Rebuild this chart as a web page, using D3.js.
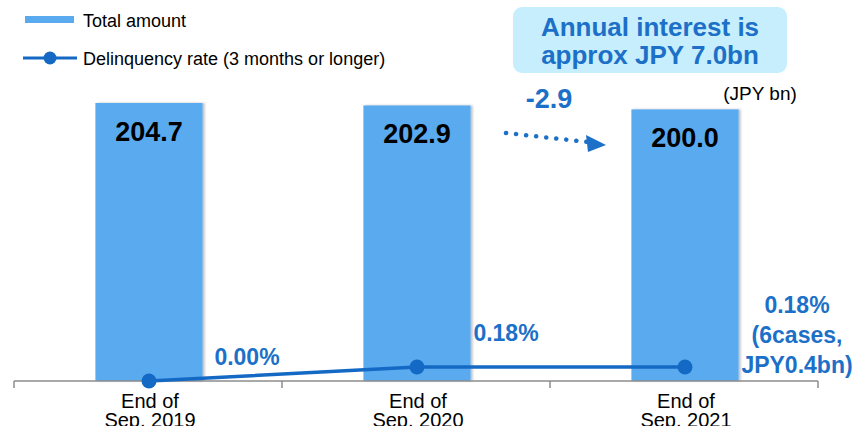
<!DOCTYPE html>
<html><head><meta charset="utf-8">
<script src="https://cdn.jsdelivr.net/npm/d3@7"></script>
<style>body{margin:0;background:#fff}svg{display:block;font-family:"Liberation Sans",Arial,sans-serif}</style>
</head><body><svg id="c" width="856" height="426"></svg>
<script>
const categories = [["End of","Sep. 2019"],["End of","Sep. 2020"],["End of","Sep. 2021"]];
const totalAmount = [204.7, 202.9, 200.0];
const delinquencyRate = [0.00, 0.18, 0.18];
const rateLabels = [["0.00%"],["0.18%"],["0.18%","(6cases,","JPY0.4bn)"]];
const legendLabels = ["Total amount","Delinquency rate (3 months or longer)"];
const calloutText = ["Annual interest is","approx JPY 7.0bn"];
const changeLabel = "-2.9";
const unitLabel = "(JPY bn)";

const svg = d3.select("#c");
const barColor = "#5aaaf0", lineColor = "#1469c4", blue = "#1c70c8";
const x = d3.scaleBand().domain(d3.range(categories.length)).range([14, 818]).paddingInner(0.6).paddingOuter(0.3);
const y = d3.scaleLinear().domain([0, 204.7]).range([381, 103]);
const yr = d3.scaleLinear().domain([0, 0.18]).range([381, 367]);
const cx = i => x(i) + x.bandwidth()/2;

svg.append("defs").append("filter").attr("id","sh").attr("x","-10%").attr("width","130%")
  .html('<feDropShadow dx="2" dy="0" stdDeviation="1.2" flood-color="#000" flood-opacity="0.25"/>');

svg.selectAll("rect.bar").data(totalAmount).join("rect").attr("class","bar")
  .attr("x",(d,i)=>x(i)+1).attr("width",x.bandwidth()).attr("y",d=>y(d)).attr("height",d=>381-y(d))
  .attr("fill",barColor).attr("filter","url(#sh)");

svg.selectAll("text.bv").data(totalAmount).join("text").attr("class","bv")
  .attr("x",(d,i)=>cx(i)+1).attr("y",d=>y(d)+38).attr("text-anchor","middle")
  .attr("font-size",27).attr("font-weight","bold").attr("fill","#000").text(d=>d.toFixed(1));

// axis
svg.append("line").attr("x1",14).attr("x2",818).attr("y1",381).attr("y2",381).attr("stroke","#8c8c8c").attr("stroke-width",1.5);
const ticks = d3.range(categories.length+1).map(i=>14 + i*(804/3));
svg.selectAll("line.tk").data(ticks).join("line").attr("class","tk")
  .attr("x1",d=>d).attr("x2",d=>d).attr("y1",381).attr("y2",388).attr("stroke","#8c8c8c").attr("stroke-width",1.5);

svg.selectAll("text.cat").data(categories).join("text").attr("class","cat")
  .attr("text-anchor","middle").attr("font-size",20).attr("fill","#000")
  .each(function(d,i){ d3.select(this).selectAll("tspan").data(d).join("tspan").attr("x",cx(i)+2).attr("y",(t,j)=>408+j*19).text(t=>t); });

// line
const line = d3.line().x((d,i)=>cx(i)+1).y(d=>yr(d));
svg.append("path").datum(delinquencyRate).attr("d",line).attr("fill","none").attr("stroke",lineColor).attr("stroke-width",3.5);
svg.selectAll("circle.pt").data(delinquencyRate).join("circle").attr("class","pt")
  .attr("cx",(d,i)=>cx(i)+1).attr("cy",d=>yr(d)).attr("r",7.5).attr("fill",lineColor);

// rate labels
const rlPos = [[247,365],[506,341],[797,313]];
svg.selectAll("text.rl").data(rateLabels).join("text").attr("class","rl")
  .attr("text-anchor","middle").attr("font-size",23).attr("font-weight","bold").attr("fill",blue)
  .each(function(d,i){ d3.select(this).selectAll("tspan").data(d).join("tspan")
    .attr("x",rlPos[i][0]).attr("y",(t,j)=>rlPos[i][1]+j*30).text(t=>t); });

// legend
svg.append("rect").attr("x",25).attr("y",16).attr("width",49).attr("height",7).attr("fill",barColor);
svg.append("text").attr("x",83).attr("y",26.5).attr("font-size",18).attr("fill","#000").text(legendLabels[0]);
svg.append("line").attr("x1",23).attr("x2",77).attr("y1",58).attr("y2",58).attr("stroke",lineColor).attr("stroke-width",3);
svg.append("circle").attr("cx",50).attr("cy",58).attr("r",6.5).attr("fill",lineColor);
svg.append("text").attr("x",83).attr("y",64.5).attr("font-size",18).attr("fill","#000").text(legendLabels[1]);

// callout
svg.append("rect").attr("x",513).attr("y",7).attr("width",274).attr("height",66).attr("rx",9).attr("fill","#c6eefd");
svg.append("text").attr("text-anchor","middle").attr("font-size",26).attr("font-weight","bold").attr("fill",blue)
  .selectAll("tspan").data(calloutText).join("tspan").attr("x",650).attr("y",(t,j)=>36+j*28).text(t=>t);

svg.append("text").attr("x",549).attr("y",108).attr("text-anchor","middle").attr("font-size",27).attr("font-weight","bold").attr("fill",blue).text(changeLabel);
svg.append("text").attr("x",760).attr("y",100).attr("text-anchor","middle").attr("font-size",19).attr("fill","#000").text(unitLabel);

// dotted arrow
svg.append("line").attr("x1",506).attr("y1",133).attr("x2",588).attr("y2",142)
  .attr("stroke",blue).attr("stroke-width",4.5).attr("stroke-linecap","round").attr("stroke-dasharray","0.1 10");
svg.append("path").attr("d","M586,135 L606,145 L588,152 Z").attr("fill",blue);
</script></body></html>
